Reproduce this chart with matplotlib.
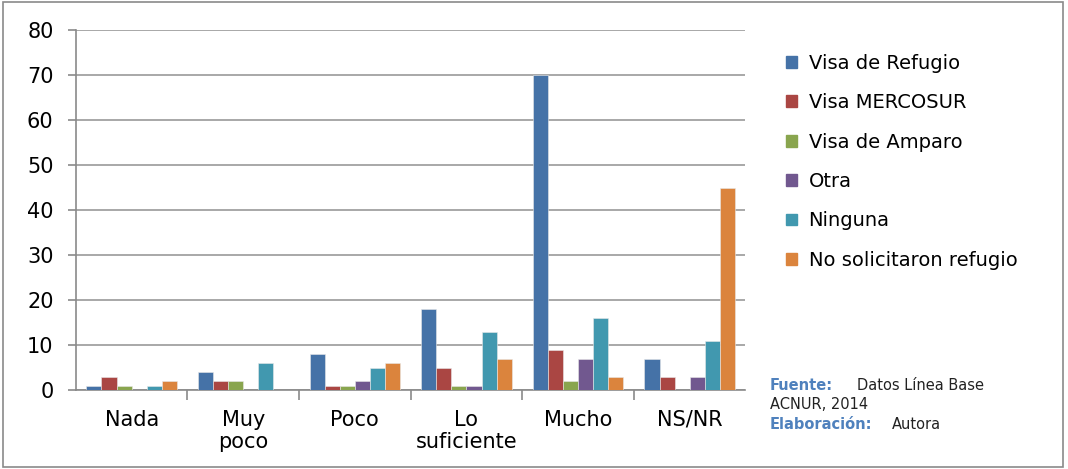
import numpy as np
import matplotlib.pyplot as plt

plt.rcParams['font.family'] = ['DejaVu Sans']

categories = ['Nada', 'Muy\npoco', 'Poco', 'Lo\nsuficiente', 'Mucho', 'NS/NR']
series = ['Visa de Refugio', 'Visa MERCOSUR', 'Visa de Amparo', 'Otra',
          'Ninguna', 'No solicitaron refugio']
refugio = [1, 4, 8, 18, 70, 7]
mercosur = [3, 2, 1, 5, 9, 3]
amparo = [1, 2, 1, 1, 2, 0]
otra = [0, 0, 2, 1, 7, 3]
ninguna = [1, 6, 5, 13, 16, 11]
no_solicitaron = [2, 0, 6, 7, 3, 45]

values = [refugio, mercosur, amparo, otra, ninguna, no_solicitaron]
colors = ['#4572A7', '#AA4643', '#89A54E', '#71588F', '#4198AF', '#DB843D']

fig = plt.figure(figsize=(10.68, 4.69), dpi=100)
ax = fig.add_axes([0.071, 0.168, 0.627, 0.768])

x = np.arange(len(categories))
w = 0.135
for i, (name, vals) in enumerate(zip(series, values)):
    ax.bar(x + (i - 2.5) * w, vals, w, color=colors[i], label=name,
           edgecolor='#e8e8e8', linewidth=0.4, zorder=3)

ax.set_xlim(-0.5, len(categories) - 0.5)
ax.set_ylim(0, 80)
ax.set_yticks(range(0, 81, 10))
ax.yaxis.grid(True, color='#9a9a9a', linewidth=1.2, zorder=0)
ax.set_xticks(x)
ax.set_xticklabels(categories, fontsize=15, linespacing=1.15)
ax.set_xticks(np.arange(0.5, len(categories) - 0.5, 1), minor=True)
ax.tick_params(axis='x', which='major', length=0, pad=14)
ax.tick_params(axis='x', which='minor', length=7, color='#8a8a8a', width=1.2)
ax.tick_params(axis='y', length=6, color='#8a8a8a', width=1.2, labelsize=15, pad=10)
for s in ['top', 'right']:
    ax.spines[s].set_visible(False)
for s in ['left', 'bottom']:
    ax.spines[s].set_color('#8a8a8a')
    ax.spines[s].set_linewidth(1.2)

handles = [plt.Rectangle((0, 0), 1, 1, color=c) for c in colors]
fig.legend(handles, series, loc='upper left', bbox_to_anchor=(0.727, 0.906),
           frameon=False, fontsize=14, handlelength=0.55, handleheight=0.55,
           handletextpad=0.6, labelspacing=1.05, borderpad=0)

fig.text(0.721, 0.168, 'Fuente:', color='#4F81BD', fontsize=10.5, fontweight='bold')
fig.text(0.802, 0.168, 'Datos Línea Base', color='#222222', fontsize=10.5)
fig.text(0.721, 0.128, 'ACNUR, 2014', color='#222222', fontsize=10.5)
fig.text(0.721, 0.085, 'Elaboración:', color='#4F81BD', fontsize=10.5, fontweight='bold')
fig.text(0.835, 0.085, 'Autora', color='#222222', fontsize=10.5)

fig.patches.append(plt.Rectangle((0.003, 0.005), 0.992, 0.99, transform=fig.transFigure,
                                 fill=False, edgecolor='#8a8a8a', linewidth=1.2))

fig.savefig('out.png', dpi=100)
